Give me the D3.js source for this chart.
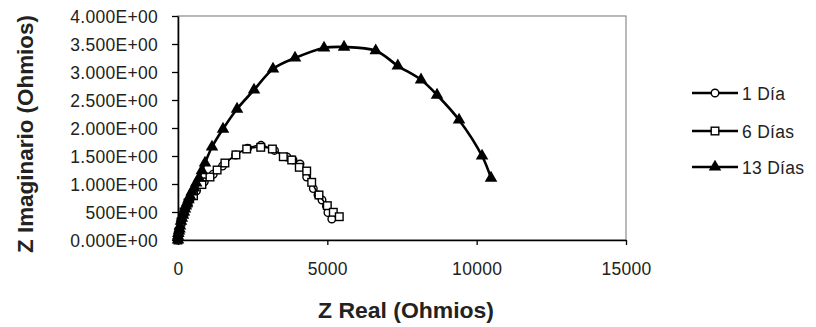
<!DOCTYPE html>
<meta charset="utf-8">
<style>
body { margin: 0; background: #fff; }
text { font-family: "Liberation Sans", Arial, sans-serif; fill: #222; }
.tick text { font-size: 17.5px; letter-spacing: 0.3px; }
.title { font-size: 22.5px; font-weight: bold; }
.legend text { font-size: 17.5px; letter-spacing: 0.3px; }
</style>
<body>
<script src="https://d3js.org/d3.v7.min.js"></script>
<script>
var width = 816,
    height = 327;

// Nyquist data (Z real, Z imaginario)
var dia1X = [0, 40, 130, 250, 400, 620, 880, 1180, 1490, 1930, 2330, 2780, 3230, 3650, 3850, 4085, 4309, 4530, 4688, 4822, 4970, 5020, 5150];
var dia1Y = [0, 170, 380, 560, 720, 880, 1040, 1175, 1320, 1518, 1640, 1690, 1600, 1482, 1430, 1357, 1125, 918, 804, 714, 607, 490, 375];

var dia6X = [0, 30, 100, 200, 335, 520, 800, 1070, 1310, 1570, 1940, 2300, 2770, 3160, 3525, 3807, 4061, 4309, 4476, 4721, 5000, 5200, 5400];
var dia6Y = [0, 140, 320, 500, 660, 790, 990, 1125, 1250, 1375, 1520, 1625, 1655, 1625, 1487, 1429, 1298, 1232, 1030, 804, 613, 495, 416];

var dia13X = [0, 0, 10, 33, 50, 67, 100, 130, 167, 200, 234, 265, 301, 350, 402, 460, 536, 610, 703, 800, 904, 1138, 1507, 1976, 2545, 3181, 3918, 4889, 5559, 6620, 7360, 8137, 8673, 9410, 10180, 10481];
var dia13Y = [0, 71, 120, 161, 200, 250, 339, 390, 446, 500, 554, 610, 661, 720, 786, 860, 929, 1020, 1107, 1240, 1375, 1661, 1982, 2339, 2679, 3054, 3250, 3429, 3446, 3380, 3110, 2860, 2589, 2143, 1500, 1107];

var seriesNames = ["1 Día", "6 Días", "13 Días"];

var xTicks = [0, 5000, 10000, 15000];
var yTicks = [0, 500, 1000, 1500, 2000, 2500, 3000, 3500, 4000];
var yTickLabels = ["0.000E+00", "500E+00", "1.000E+00", "1.500E+00", "2.000E+00",
                   "2.500E+00", "3.000E+00", "3.500E+00", "4.000E+00"];

var svg = d3.select("body").append("svg")
    .attr("width", width)
    .attr("height", height);

var x = d3.scaleLinear().domain([0, 15000]).range([178, 626]);
var y = d3.scaleLinear().domain([0, 4000]).range([240, 16]);

// plot area frame
svg.append("rect")
    .attr("x", x(0)).attr("y", y(4000))
    .attr("width", x(15000) - x(0)).attr("height", y(0) - y(4000))
    .attr("fill", "none").attr("stroke", "#8a8a8a").attr("stroke-width", 1.2);

svg.append("g")
    .attr("transform", "translate(0," + y(0) + ")")
    .call(d3.axisBottom(x).tickValues(xTicks).tickFormat(d3.format("d"))
        .tickSize(5).tickSizeOuter(0).tickPadding(14));

svg.append("g")
    .attr("transform", "translate(" + x(0) + ",0)")
    .call(d3.axisLeft(y).tickValues(yTicks)
        .tickFormat(function(d, i) { return yTickLabels[i]; })
        .tickSize(6).tickSizeOuter(0).tickPadding(14));

svg.selectAll(".domain").attr("stroke", "#000").attr("stroke-width", 1.6);
svg.selectAll(".tick line").attr("stroke", "#000").attr("stroke-width", 1.3);
// the source text is a little taller than it is wide
svg.selectAll(".tick text").attr("fill", "#222").attr("transform", "scale(1,1.1)");

// titles
svg.append("text")
    .attr("class", "title")
    .attr("x", 406).attr("y", 318)
    .attr("text-anchor", "middle")
    .attr("textLength", 176).attr("lengthAdjust", "spacingAndGlyphs")
    .text("Z Real (Ohmios)");

svg.append("text")
    .attr("class", "title")
    .attr("transform", "translate(33,134) rotate(-90)")
    .attr("text-anchor", "middle")
    .attr("textLength", 238).attr("lengthAdjust", "spacingAndGlyphs")
    .text("Z Imaginario (Ohmios)");

var line = d3.line()
    .x(function(d) { return x(d[0]); })
    .y(function(d) { return y(d[1]); })
    .curve(d3.curveCatmullRom);

function zip(a, b) { return a.map(function(v, i) { return [v, b[i]]; }); }

var d1 = zip(dia1X, dia1Y),
    d6 = zip(dia6X, dia6Y),
    d13 = zip(dia13X, dia13Y);

var tri = d3.symbol().type(d3.symbolTriangle).size(68);

// 1 Día (circles)
svg.append("path").datum(d1).attr("d", line)
    .attr("fill", "none").attr("stroke", "#000").attr("stroke-width", 1.5);
svg.append("g").selectAll("circle").data(d1).enter().append("circle")
    .attr("cx", function(d) { return x(d[0]); })
    .attr("cy", function(d) { return y(d[1]); })
    .attr("r", 3.8)
    .attr("fill", "#fff").attr("stroke", "#000").attr("stroke-width", 1.4);

// 6 Días (squares)
svg.append("path").datum(d6).attr("d", line)
    .attr("fill", "none").attr("stroke", "#000").attr("stroke-width", 1.5);
svg.append("g").selectAll("rect").data(d6).enter().append("rect")
    .attr("x", function(d) { return x(d[0]) - 3.8; })
    .attr("y", function(d) { return y(d[1]) - 3.8; })
    .attr("width", 7.6).attr("height", 7.6)
    .attr("fill", "#fff").attr("stroke", "#000").attr("stroke-width", 1.4);

// 13 Días (filled triangles)
svg.append("path").datum(d13).attr("d", line)
    .attr("fill", "none").attr("stroke", "#000").attr("stroke-width", 2.6);
svg.append("g").selectAll("path").data(d13).enter().append("path")
    .attr("d", tri)
    .attr("transform", function(d) { return "translate(" + x(d[0]) + "," + y(d[1]) + ")"; })
    .attr("fill", "#000");

// legend
var legY = [93, 131, 167];
var leg = svg.append("g").attr("class", "legend");
seriesNames.forEach(function(name, i) {
    var g = leg.append("g").attr("transform", "translate(0," + legY[i] + ")");
    g.append("line").attr("x1", 692).attr("x2", 738)
        .attr("stroke", "#000").attr("stroke-width", 2.6);
    if (i === 0) {
        g.append("circle").attr("cx", 715).attr("r", 3.8)
            .attr("fill", "#fff").attr("stroke", "#000").attr("stroke-width", 1.4);
    } else if (i === 1) {
        g.append("rect").attr("x", 711.2).attr("y", -3.8).attr("width", 7.6).attr("height", 7.6)
            .attr("fill", "#fff").attr("stroke", "#000").attr("stroke-width", 1.4);
    } else {
        g.append("path").attr("d", tri).attr("transform", "translate(715,0)").attr("fill", "#000");
    }
    g.append("text").attr("x", 742).attr("dy", "0.36em").attr("transform", "scale(1,1.1)")
        .attr("y", 0).text(name);
});
</script>
</body>
